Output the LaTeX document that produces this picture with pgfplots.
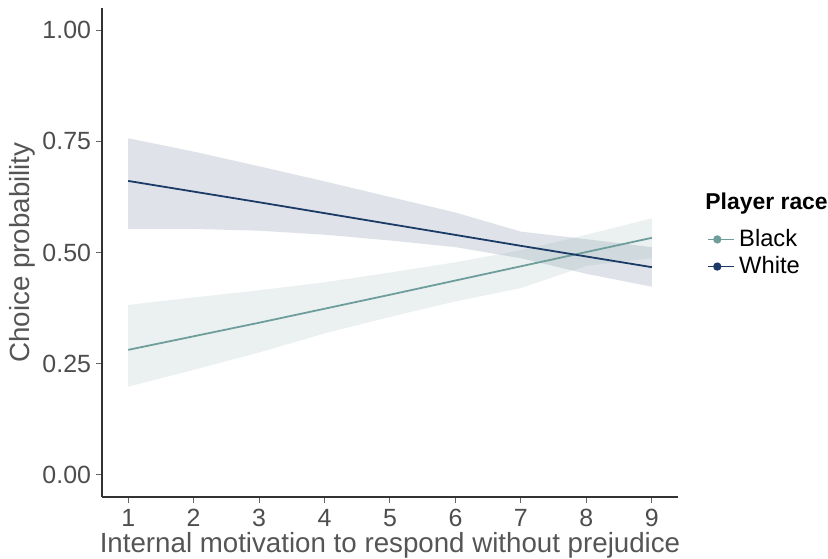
\documentclass[border=0pt]{standalone}
\usepackage{pgfplots}
\pgfplotsset{compat=1.18}
\usepackage{fontspec}
\setmainfont{Liberation Sans}
\definecolor{cblack}{HTML}{6E9E9B}
\definecolor{cwhite}{HTML}{1B3A66}
\definecolor{ticktxt}{HTML}{4D4D4D}
\definecolor{labtxt}{HTML}{555555}
\begin{document}
\begin{tikzpicture}
\path[use as bounding box] (0,0) rectangle (414bp,279.5bp);
\begin{axis}[
  at={(51bp,31bp)}, anchor=south west,
  scale only axis, width=288bp, height=244.5bp,
  xmin=0.6, xmax=9.4, ymin=-0.05, ymax=1.05,
  axis lines=left, axis line style={-, black!80, line width=0.6bp},
  xtick={1,...,9}, ytick={0,0.25,0.5,0.75,1},
  yticklabels={0.00,0.25,0.50,0.75,1.00},
  tick align=outside, major tick length=3bp,
  tick style={black!60, line width=0.5bp},
  ticklabel style={font=\fontsize{12.5}{14}\selectfont, text=ticktxt},
  yticklabel style={xshift=1bp},
  xticklabel style={yshift=0.5bp},
  /pgf/number format/assume math mode=true,
  xlabel={Internal motivation to respond without prejudice},
  ylabel={Choice probability},
  label style={font=\fontsize{13.9}{16}\selectfont, text=labtxt},
  xlabel style={yshift=4bp},
  ylabel style={yshift=-3bp},
  legend style={at={(rel axis cs:1.04,0.499)}, anchor=west, draw=none, fill=none,
    font=\fontsize{11.9}{14}\selectfont, row sep=-0.5bp, cells={anchor=west}},
  legend image code/.code={\draw[#1, line width=0.9bp] (0,0) -- (9bp,0); \fill[#1] (4.5bp,0) circle (1.6bp); \path (0,0) -- (13bp,0);},
  clip=false,
]
% White band
\addplot[fill=cwhite, fill opacity=0.14, draw=none, forget plot] coordinates {
(1,0.757) (2,0.727) (3,0.694) (4,0.660) (5,0.625) (6,0.590) (7,0.547) (8,0.530) (9,0.512)
(9,0.423) (8,0.452) (7,0.487) (6,0.512) (5,0.527) (4,0.540) (3,0.549) (2,0.553) (1,0.553)};
% Black band
\addplot[fill=cblack, fill opacity=0.14, draw=none, forget plot] coordinates {
(1,0.382) (2,0.399) (3,0.415) (4,0.433) (5,0.455) (6,0.478) (7,0.505) (8,0.540) (9,0.577)
(9,0.487) (8,0.470) (7,0.420) (6,0.390) (5,0.355) (4,0.318) (3,0.275) (2,0.236) (1,0.198)};
\addplot[cblack, line width=0.9bp] coordinates {(1,0.281) (3,0.342) (5,0.405) (7,0.469) (9,0.533)};
\addlegendentry{Black}
\addplot[cwhite, line width=0.9bp] coordinates {(1,0.661) (3,0.613) (5,0.564) (7,0.515) (9,0.467)};
\addlegendentry{White}
\node[anchor=west, inner sep=0pt, font=\bfseries\fontsize{11.5}{13}\selectfont] at (rel axis cs:1.047,0.601) {Player race};
\end{axis}
\end{tikzpicture}
\end{document}
